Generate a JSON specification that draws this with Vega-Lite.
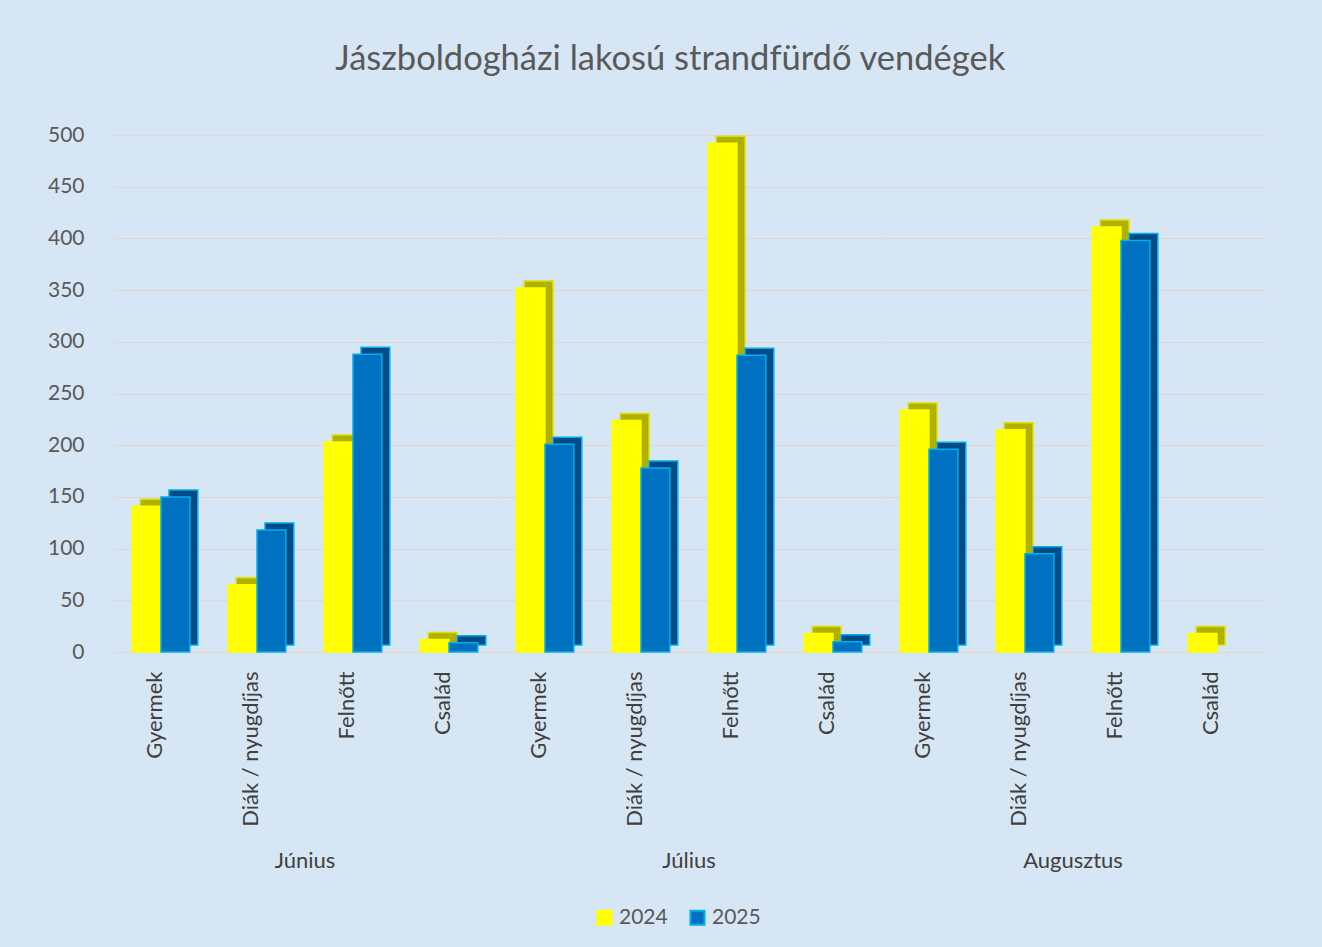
{
  "$schema": "https://vega.github.io/schema/vega-lite/v6.json",
  "background": "#d7e6f4",
  "padding": {"left": 47, "top": 41, "right": 61, "bottom": 20},
  "title": {
    "text": "Jászboldogházi lakosú strandfürdő vendégek",
    "font": "Lato",
    "fontSize": 34.5,
    "fontWeight": "normal",
    "color": "#595959",
    "anchor": "middle",
    "dx": 14,
    "offset": 47
  },
  "data": {
    "values": [
      {"month": "Június", "cat": "Gyermek", "year": "2024", "value": 141},
      {"month": "Június", "cat": "Gyermek", "year": "2025", "value": 150},
      {"month": "Június", "cat": "Diák / nyugdíjas", "year": "2024", "value": 65},
      {"month": "Június", "cat": "Diák / nyugdíjas", "year": "2025", "value": 118},
      {"month": "Június", "cat": "Felnőtt", "year": "2024", "value": 203},
      {"month": "Június", "cat": "Felnőtt", "year": "2025", "value": 288},
      {"month": "Június", "cat": "Család", "year": "2024", "value": 12},
      {"month": "Június", "cat": "Család", "year": "2025", "value": 9},
      {"month": "Július", "cat": "Gyermek", "year": "2024", "value": 352},
      {"month": "Július", "cat": "Gyermek", "year": "2025", "value": 201},
      {"month": "Július", "cat": "Diák / nyugdíjas", "year": "2024", "value": 224},
      {"month": "Július", "cat": "Diák / nyugdíjas", "year": "2025", "value": 178},
      {"month": "Július", "cat": "Felnőtt", "year": "2024", "value": 492},
      {"month": "Július", "cat": "Felnőtt", "year": "2025", "value": 287},
      {"month": "Július", "cat": "Család", "year": "2024", "value": 18},
      {"month": "Július", "cat": "Család", "year": "2025", "value": 10},
      {"month": "Augusztus", "cat": "Gyermek", "year": "2024", "value": 234},
      {"month": "Augusztus", "cat": "Gyermek", "year": "2025", "value": 196},
      {"month": "Augusztus", "cat": "Diák / nyugdíjas", "year": "2024", "value": 215},
      {"month": "Augusztus", "cat": "Diák / nyugdíjas", "year": "2025", "value": 95},
      {"month": "Augusztus", "cat": "Felnőtt", "year": "2024", "value": 411},
      {"month": "Augusztus", "cat": "Felnőtt", "year": "2025", "value": 398},
      {"month": "Augusztus", "cat": "Család", "year": "2024", "value": 18}
    ]
  },
  "facet": {
    "column": {
      "field": "month",
      "type": "nominal",
      "sort": ["Június", "Július", "Augusztus"],
      "header": {
        "title": null,
        "labelOrient": "bottom",
        "labelFont": "Lato",
        "labelFontSize": 22,
        "labelColor": "#404040",
        "labelPadding": 25
      }
    }
  },
  "spacing": 0,
  "spec": {
    "width": 384,
    "height": 517,
    "encoding": {
      "x": {
        "field": "cat",
        "type": "nominal",
        "sort": ["Gyermek", "Diák / nyugdíjas", "Felnőtt", "Család"],
        "scale": {"paddingInner": 0.4, "paddingOuter": 0.2},
        "axis": {
          "title": null,
          "labelAngle": -90,
          "labelPadding": 18,
          "labelOffset": -6,
          "ticks": false,
          "domain": false,
          "labelFont": "Lato",
          "labelFontSize": 22,
          "labelColor": "#404040"
        }
      },
      "y": {
        "field": "value",
        "type": "quantitative",
        "scale": {"domain": [0, 500], "nice": false},
        "axis": {
          "title": null,
          "values": [0, 50, 100, 150, 200, 250, 300, 350, 400, 450, 500],
          "ticks": false,
          "domain": false,
          "labelPadding": 29,
          "labelFont": "Lato",
          "labelFontSize": 21,
          "labelColor": "#595959",
          "gridColor": "#d9d9d9",
          "gridWidth": 1.5
        }
      }
    },
    "layer": [
      {
        "transform": [{"filter": "datum.year == '2024'"}],
        "mark": {"type": "bar", "width": {"band": 0.5}, "xOffset": -6.4, "yOffset": -7, "y2Offset": -7, "fill": "#b0b000", "stroke": "#e0e000", "strokeWidth": 1.5}
      },
      {
        "transform": [{"filter": "datum.year == '2025'"}],
        "mark": {"type": "bar", "width": {"band": 0.5}, "xOffset": 22.4, "yOffset": -7, "y2Offset": -7, "fill": "#004b85", "stroke": "#00b0f0", "strokeWidth": 1.5}
      },
      {
        "mark": {"type": "bar", "strokeWidth": 1.5},
        "encoding": {
          "xOffset": {
            "field": "year",
            "type": "nominal",
            "scale": {"paddingInner": 0, "paddingOuter": 0}
          },
          "fill": {
            "field": "year",
            "type": "nominal",
            "scale": {"domain": ["2024", "2025"], "range": ["#ffff00", "#0070c0"]},
            "legend": {"title": null, "orient": "none", "legendX": 481, "legendY": 772, "direction": "horizontal"}
          },
          "stroke": {
            "field": "year",
            "type": "nominal",
            "scale": {"domain": ["2024", "2025"], "range": ["#ffff00", "#00b0f0"]},
            "legend": {"title": null, "orient": "none", "legendX": 481, "legendY": 772, "direction": "horizontal"}
          }
        }
      }
    ]
  },
  "config": {
    "view": {"stroke": null},
    "legend": {
      "symbolType": "square",
      "symbolSize": 200,
      "symbolStrokeWidth": 2,
      "labelFont": "Lato",
      "labelFontSize": 21,
      "labelColor": "#595959",
      "labelOffset": 4,
      "columnPadding": 18
    }
  }
}
